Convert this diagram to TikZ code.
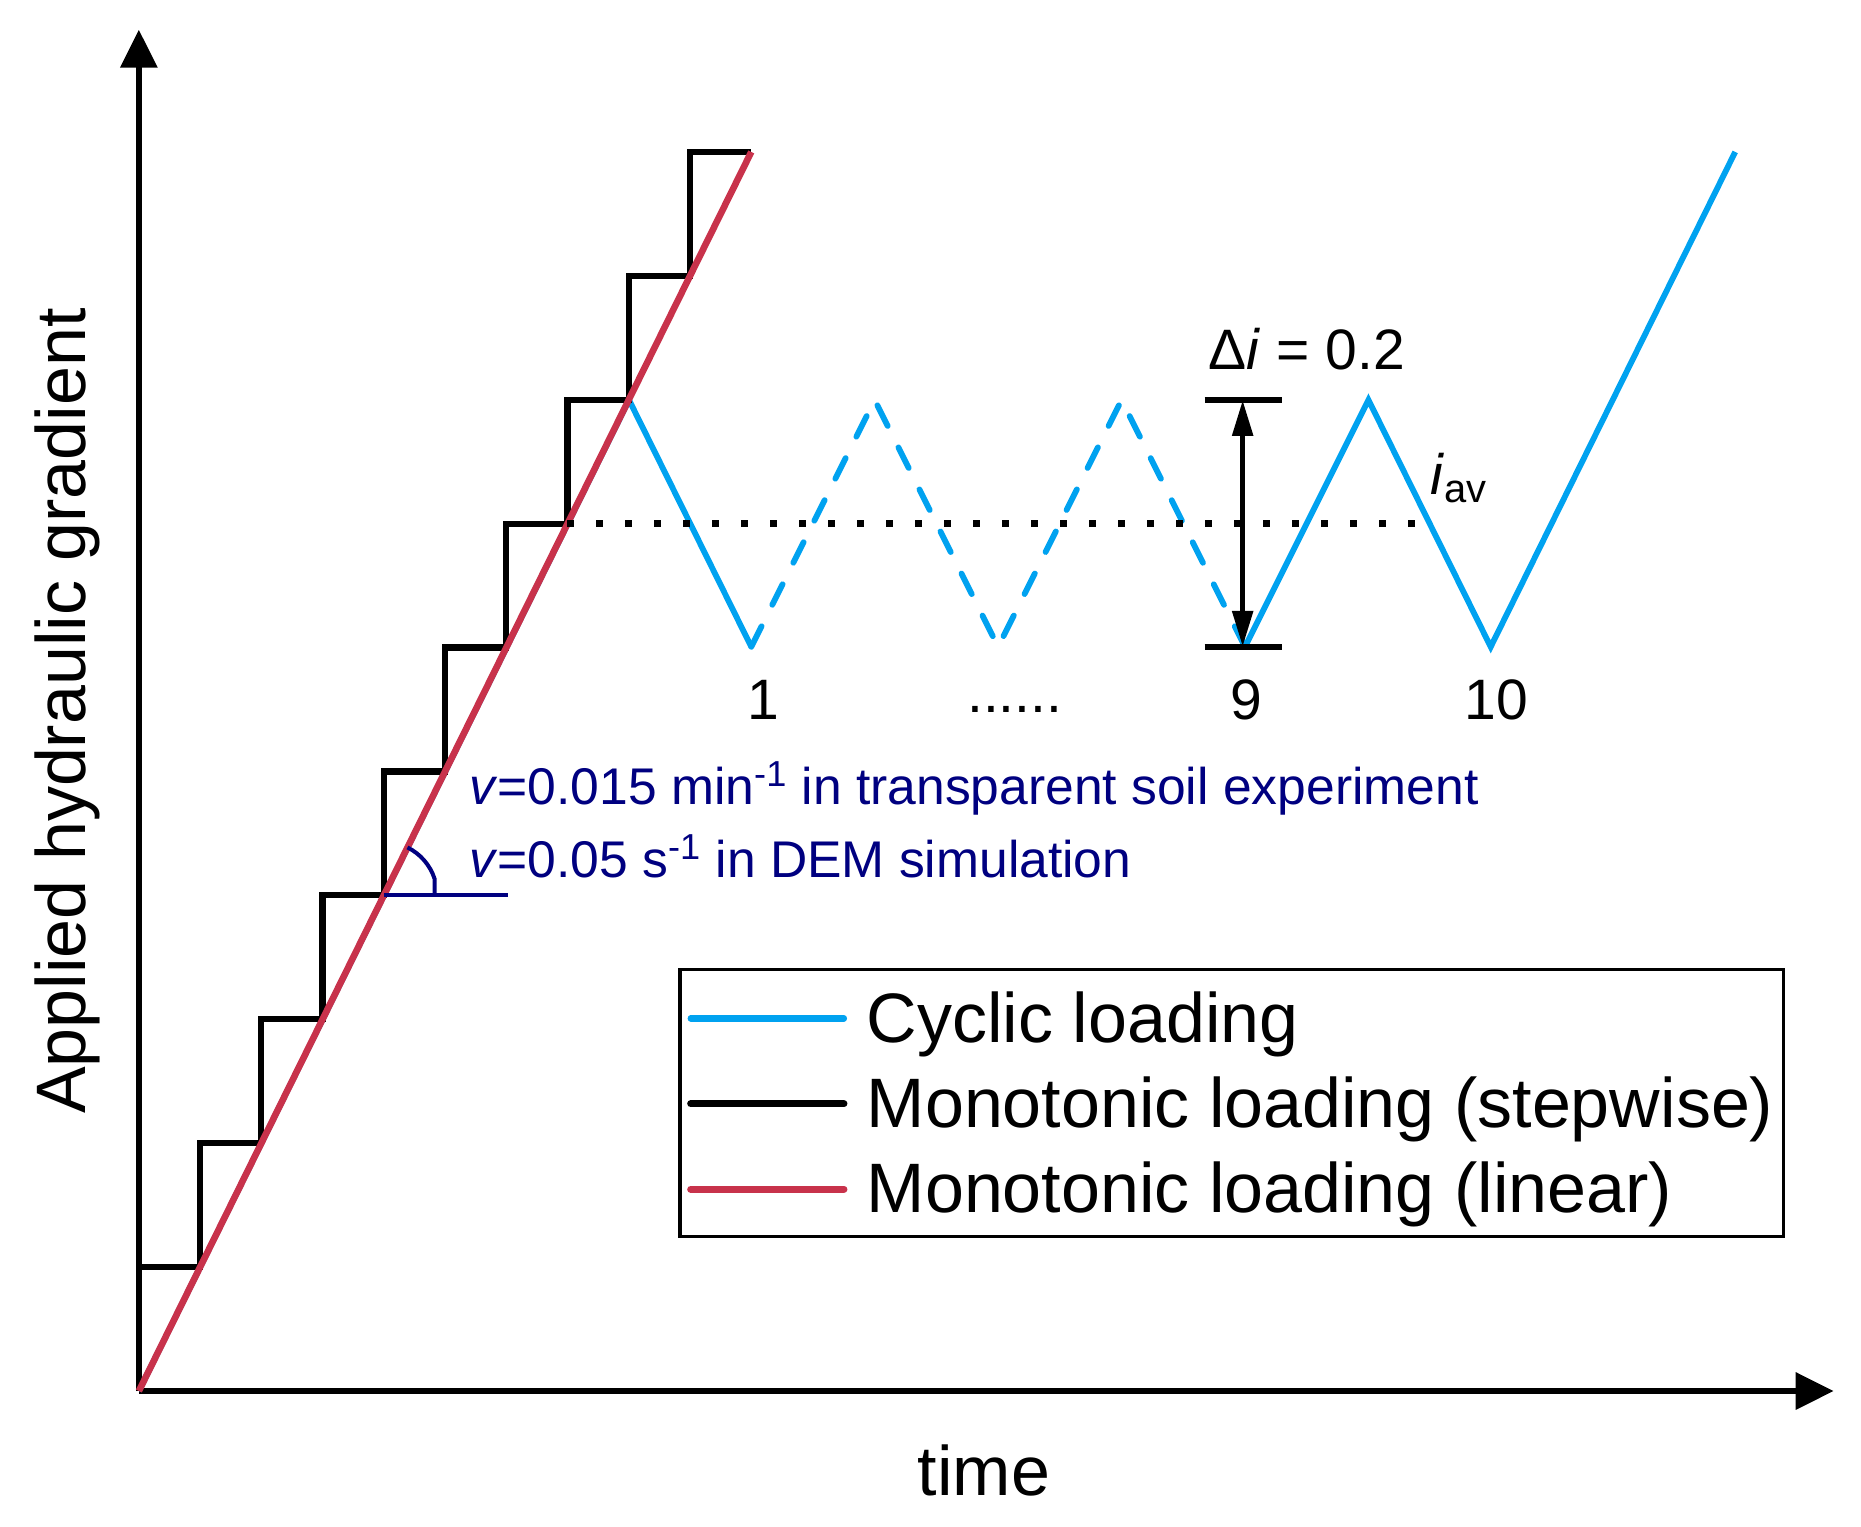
\documentclass[tikz,border=0pt]{standalone}
\usepackage{fontspec}
\setmainfont{Liberation Sans}
\usetikzlibrary{arrows.meta}
\definecolor{cyc}{RGB}{0,162,240}
\definecolor{mono}{RGB}{200,50,75}
\definecolor{navyc}{RGB}{0,0,128}
\begin{document}
\begin{tikzpicture}[x=0.5934pt,y=-0.5934pt,
  axis/.style={line width=3.2pt,-{Triangle[length=19pt,width=18pt]}},
  cycline/.style={cyc,line width=2.9pt},
  stepline/.style={black,line width=3.1pt,line join=miter},
  linline/.style={mono,line width=3.3pt},
  dotline/.style={black,line width=3.2pt,dash pattern=on 3.2pt off 11.3pt},
  bigtxt/.style={inner sep=0pt,font=\fontsize{35}{42}\selectfont},
  midtxt/.style={inner sep=0pt,font=\fontsize{28.5}{34}\selectfont},
  bluetxt/.style={inner sep=0pt,navyc,font=\fontsize{25.8}{31}\selectfont},
  dimline/.style={line width=2.8pt},
  angmark/.style={navyc,line width=2pt},
]
\useasboundingbox (0,0) rectangle (1568,1286);
% axes
\coordinate (O) at (117,1172);
\coordinate (ytip) at (117,25);
\coordinate (xtip) at (1545,1172);
\draw[axis] (O) -- (ytip);
\draw[axis] (O) -- (xtip);
\node[bigtxt, rotate=90, anchor=base] (ylab) at (72,599) {Applied hydraulic gradient};
\node[bigtxt, anchor=base] (xlab) at (829,1260) {time};
% cyclic loading
\coordinate (p0) at (530,337);
\coordinate (t1) at (633,545);
\coordinate (p1) at (737,337);
\coordinate (t2) at (841,545);
\coordinate (p2) at (945,337);
\coordinate (t9) at (1049,545);
\coordinate (p9) at (1153,337);
\coordinate (t10) at (1256,545);
\coordinate (cend) at (1462,128);
\draw[cycline] (O) -- (p0) -- (t1);
\draw[cycline, dash pattern=on 11.5pt off 12pt, line cap=round] (t1) -- (p1) -- (t2) -- (p2) -- (t9);
\draw[cycline, line join=miter] (t9) -- (p9) -- (t10) -- (cend);
% stepwise loading
\draw[stepline] (O) \foreach \k in {0,...,9} { -- ({117+51.6*\k},{1172-104.4*(\k+1)}) -- ({117+51.6*(\k+1)},{1172-104.4*(\k+1)}) };
% linear loading
\coordinate (lend) at (633,128);
\draw[linline] (O) -- (lend);
% average line
\coordinate (avs) at (478,441);
\coordinate (ave) at (1200,441);
\draw[dotline] (avs) -- (ave);
\node[midtxt, anchor=base west] (iav) at (1205,417) {\textit{i}\textsubscript{av}};
% amplitude
\coordinate (bt1) at (1015,337);
\coordinate (bt2) at (1080,337);
\coordinate (bb1) at (1015,545);
\coordinate (bb2) at (1080,545);
\coordinate (at) at (1047,337);
\coordinate (ab) at (1047,545);
\draw[dimline] (bt1) -- (bt2);
\draw[dimline] (bb1) -- (bb2);
\draw[dimline, {Triangle[length=18pt,width=10pt]}-{Triangle[length=18pt,width=10pt]}] (at) -- (ab);
\node[midtxt, anchor=base west] (dlab) at (1018,311) {Δ\textit{i} = 0.2};
% cycle numbers
\node[midtxt, anchor=base] (n1) at (643,606) {1};
\node[midtxt, anchor=base] (ndots) at (855,600) {......};
\node[midtxt, anchor=base] (n9) at (1050,606) {9};
\node[midtxt, anchor=base] (n10) at (1261,606) {10};
% rate annotation
\coordinate (ac) at (323.4,754.4);
\coordinate (ae) at (428,754.4);
\draw[angmark] (ac) -- (ae);
\draw[angmark] (343.3,714) arc[start angle=-63.7, end angle=-18, radius=45] -- (366.2,754.4);
\node[bluetxt, anchor=base west] (v1) at (395,678) {\textit{v}=0.015 min\textsuperscript{-1} in transparent soil experiment};
\node[bluetxt, anchor=base west] (v2) at (395,739) {\textit{v}=0.05 s\textsuperscript{-1} in DEM simulation};
% legend
\draw[line width=1.6pt] (573,817) rectangle (1503,1042);
\draw[cycline, line width=3.2pt, line cap=round] (582,858) -- (711,858);
\draw[stepline, line width=3.6pt, line cap=round] (582,930) -- (711,930);
\draw[linline, line width=3.6pt, line cap=round] (582,1002) -- (711,1002);
\node[bigtxt, anchor=base west] (l1) at (730,878) {Cyclic loading};
\node[bigtxt, anchor=base west] (l2) at (730,950) {Monotonic loading (stepwise)};
\node[bigtxt, anchor=base west] (l3) at (730,1022) {Monotonic loading (linear)};
\end{tikzpicture}
\end{document}
